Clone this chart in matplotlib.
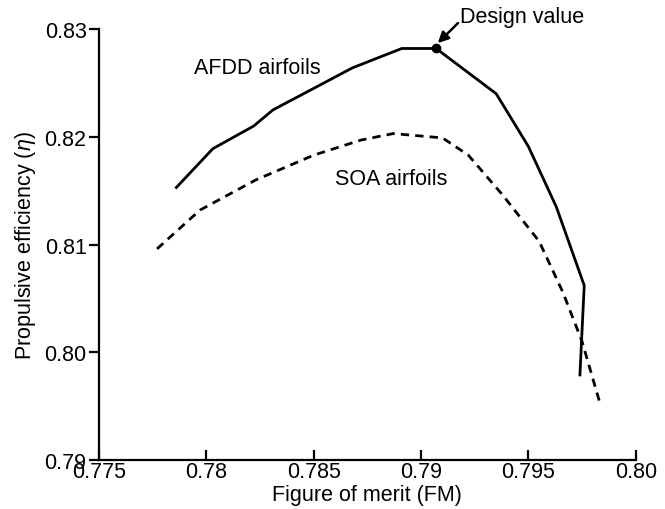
import numpy as np
import matplotlib
matplotlib.use("Agg")
from matplotlib import pyplot as plt

plt.rcParams['font.family'] = ['Liberation Sans', 'DejaVu Sans']
plt.rcParams['mathtext.fontset'] = 'custom'
plt.rcParams['mathtext.rm'] = 'Liberation Sans'
plt.rcParams['mathtext.it'] = 'Liberation Sans:italic'

# AFDD airfoils (solid)
afdd_fm = [0.7786, 0.7803, 0.7822, 0.7831, 0.7850, 0.7868, 0.7891, 0.7907,
           0.7935, 0.7950, 0.7963, 0.7976, 0.7974]
afdd_eta = [0.8153, 0.8189, 0.8210, 0.8225, 0.8245, 0.8264, 0.8282, 0.8282,
            0.8240, 0.8191, 0.8135, 0.8062, 0.7979]

# SOA airfoils (dashed)
soa_fm = [0.7777, 0.7797, 0.7823, 0.7850, 0.7872, 0.7887, 0.7910, 0.7922,
          0.7938, 0.7955, 0.7966, 0.7975, 0.7983]
soa_eta = [0.8096, 0.8132, 0.8160, 0.8183, 0.8197, 0.8203, 0.8199, 0.8183,
           0.8146, 0.8103, 0.8056, 0.8010, 0.7955]

design_fm = 0.7907
design_eta = 0.8282

xticks = [0.775, 0.78, 0.785, 0.79, 0.795, 0.80]
xticklabels = ['0.775', '0.78', '0.785', '0.79', '0.795', '0.80']
yticks = [0.79, 0.80, 0.81, 0.82, 0.83]
yticklabels = ['0.79', '0.80', '0.81', '0.82', '0.83']

fs = 15.5

fig = plt.figure(figsize=(6.65, 5.1), dpi=100)
ax = fig.add_axes([0.149, 0.096, 0.807, 0.845])

ax.plot(afdd_fm, afdd_eta, color='black', lw=2.0, solid_joinstyle='miter')
ax.plot(soa_fm, soa_eta, color='black', lw=2.0, dashes=(3, 2.2))
ax.plot([design_fm], [design_eta], 'o', color='black', ms=6)

ax.text(0.7794, 0.8264, 'AFDD airfoils', fontsize=fs, va='center', ha='left')
ax.text(0.7860, 0.8161, 'SOA airfoils', fontsize=fs, va='center', ha='left')
ax.text(0.7918, 0.8312, 'Design value', fontsize=fs, va='center', ha='left', clip_on=False)
ax.annotate('', xy=(0.79078, 0.8287), xytext=(0.79172, 0.83056),
            annotation_clip=False,
            arrowprops=dict(arrowstyle='-|>', color='black', lw=1.8,
                            mutation_scale=16, shrinkA=0, shrinkB=0))

ax.set_xlim(0.775, 0.80)
ax.set_ylim(0.79, 0.83)
ax.set_xticks(xticks)
ax.set_xticklabels(xticklabels)
ax.set_yticks(yticks)
ax.set_yticklabels(yticklabels)

for s in ['top', 'right']:
    ax.spines[s].set_visible(False)
for s in ['left', 'bottom']:
    ax.spines[s].set_linewidth(1.6)

ax.tick_params(axis='x', direction='in', length=7, width=1.6, labelsize=fs, pad=1)
ax.tick_params(axis='y', direction='out', length=7, width=1.6, labelsize=fs, pad=2)

ax.set_xlabel('Figure of merit (FM)', fontsize=fs, labelpad=1)
ax.set_ylabel(r'Propulsive efficiency ($\eta$)', fontsize=fs, labelpad=5)

fig.savefig('out.png', dpi=100)
